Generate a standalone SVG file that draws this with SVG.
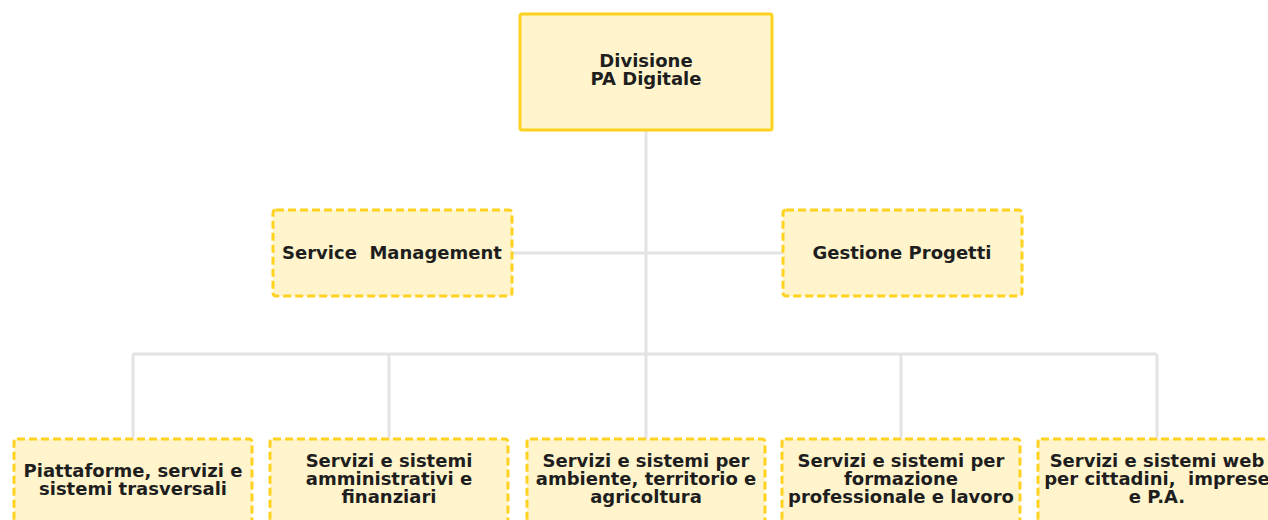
<svg xmlns="http://www.w3.org/2000/svg" width="1268" height="520" viewBox="0 0 1268 520">
<style>
.box{fill:#FFF4CC;stroke:#FFD21F;stroke-width:3}
.dash{stroke-dasharray:8 4}
.t{font-family:"DejaVu Sans",Verdana,sans-serif;font-weight:bold;font-size:18px;fill:#1E1E1E;text-anchor:middle}
.c{stroke:#E3E3E3;stroke-width:3;fill:none}
</style>
<rect width="1268" height="520" fill="#FFFFFF"/>
<g id="connectors">
<line class="c" x1="646" y1="130" x2="646" y2="439"/>
<line class="c" x1="512" y1="253" x2="783" y2="253"/>
<line class="c" x1="133" y1="354" x2="1157" y2="354"/>
<line class="c" x1="133" y1="354" x2="133" y2="439"/>
<line class="c" x1="389" y1="354" x2="389" y2="439"/>
<line class="c" x1="901" y1="354" x2="901" y2="439"/>
<line class="c" x1="1157" y1="354" x2="1157" y2="439"/>
</g>
<g id="divisione">
<rect class="box" x="520" y="14" width="252" height="116" rx="2"/>
<text class="t" x="646" y="67">Divisione</text>
<text class="t" x="646" y="85">PA Digitale</text>
</g>
<g id="service-management">
<rect class="box dash" x="273" y="210" width="239" height="86" rx="3"/>
<text class="t" x="392" y="259" xml:space="preserve">Service  Management</text>
</g>
<g id="gestione-progetti">
<rect class="box dash" x="783" y="210" width="239" height="86" rx="3"/>
<text class="t" x="902" y="259">Gestione Progetti</text>
</g>
<g id="piattaforme">
<rect class="box dash" x="14" y="439" width="238" height="100" rx="3"/>
<text class="t" x="133" y="477">Piattaforme, servizi e</text>
<text class="t" x="133" y="495">sistemi trasversali</text>
</g>
<g id="amministrativi">
<rect class="box dash" x="270" y="439" width="238" height="100" rx="3"/>
<text class="t" x="389" y="467">Servizi e sistemi</text>
<text class="t" x="389" y="485">amministrativi e</text>
<text class="t" x="389" y="503">finanziari</text>
</g>
<g id="ambiente">
<rect class="box dash" x="527" y="439" width="238" height="100" rx="3"/>
<text class="t" x="646" y="467">Servizi e sistemi per</text>
<text class="t" x="646" y="485">ambiente, territorio e</text>
<text class="t" x="646" y="503">agricoltura</text>
</g>
<g id="formazione">
<rect class="box dash" x="782" y="439" width="238" height="100" rx="3"/>
<text class="t" x="901" y="467">Servizi e sistemi per</text>
<text class="t" x="901" y="485">formazione</text>
<text class="t" x="901" y="503">professionale e lavoro</text>
</g>
<g id="web">
<rect class="box dash" x="1038" y="439" width="238" height="100" rx="3"/>
<text class="t" x="1157" y="467">Servizi e sistemi web</text>
<text class="t" x="1157" y="485" xml:space="preserve">per cittadini,  imprese</text>
<text class="t" x="1157" y="503">e P.A.</text>
</g>
</svg>
